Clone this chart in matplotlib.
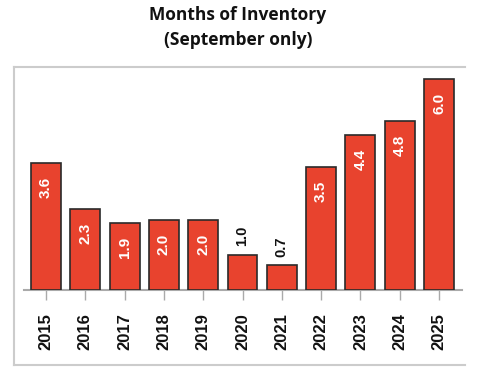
import matplotlib
matplotlib.use("Agg")
import matplotlib.pyplot as plt
from matplotlib.lines import Line2D

years = ["2015", "2016", "2017", "2018", "2019", "2020", "2021", "2022", "2023", "2024", "2025"]
months = [3.6, 2.3, 1.9, 2.0, 2.0, 1.0, 0.7, 3.5, 4.4, 4.8, 6.0]
label_outside = ["2020", "2021"]

BAR = "#E8432E"
W, H = 480, 378

fig = plt.figure(figsize=(W / 100, H / 100), dpi=100, facecolor="white")
ax = fig.add_axes([24 / W, (H - 290) / H, (462 - 24) / W, 218 / H])

x = list(range(len(years)))
ax.bar(x, months, width=0.76, color=BAR, edgecolor="#2a2a2a", linewidth=1.2, zorder=3)

for xi, yr, v in zip(x, years, months):
    if yr in label_outside:
        ax.annotate(f"{v:.1f}", (xi, v), xytext=(0, 6), textcoords="offset points",
                    rotation=90, ha="center", va="bottom", color="#111111",
                    fontsize=10.5, fontweight="bold", family="Liberation Sans")
    else:
        ax.annotate(f"{v:.1f}", (xi, v), xytext=(0, -10), textcoords="offset points",
                    rotation=90, ha="center", va="top", color="white",
                    fontsize=11, fontweight="bold", family="Liberation Sans")

ax.set_xlim(-0.56, 10.585)
ax.set_ylim(0, 6.19)
ax.set_xticks(x)
ax.set_xticklabels(years, rotation=90, fontsize=12, fontweight="bold", family="Liberation Sans")
ax.set_yticks([])
for s in ["top", "right", "left"]:
    ax.spines[s].set_visible(False)
ax.spines["bottom"].set_color("#aaaaaa")
ax.spines["bottom"].set_linewidth(1.5)
ax.tick_params(axis="x", length=7, width=1, color="#aaaaaa", pad=10, labelcolor="#111111")

# outer frame (left, top, bottom only)
fc = "#cccccc"
fig.add_artist(Line2D([14 / W, 14 / W], [1 - 67 / H, 1 - 365 / H], color=fc, lw=1.5, transform=fig.transFigure))
fig.add_artist(Line2D([14 / W, 465 / W], [1 - 67 / H, 1 - 67 / H], color=fc, lw=1.5, transform=fig.transFigure))
fig.add_artist(Line2D([14 / W, 465 / W], [1 - 365 / H, 1 - 365 / H], color=fc, lw=1.5, transform=fig.transFigure))

fig.text(238 / W, 1 - 15 / H, "Months of Inventory", ha="center", va="center",
         fontsize=12.5, fontweight="bold", family="Open Sans", color="#111111")
fig.text(238 / W, 1 - 40 / H, "(September only)", ha="center", va="center",
         fontsize=12.5, fontweight="bold", family="Open Sans", color="#111111")

fig.savefig("out.png", dpi=100, facecolor="white")
